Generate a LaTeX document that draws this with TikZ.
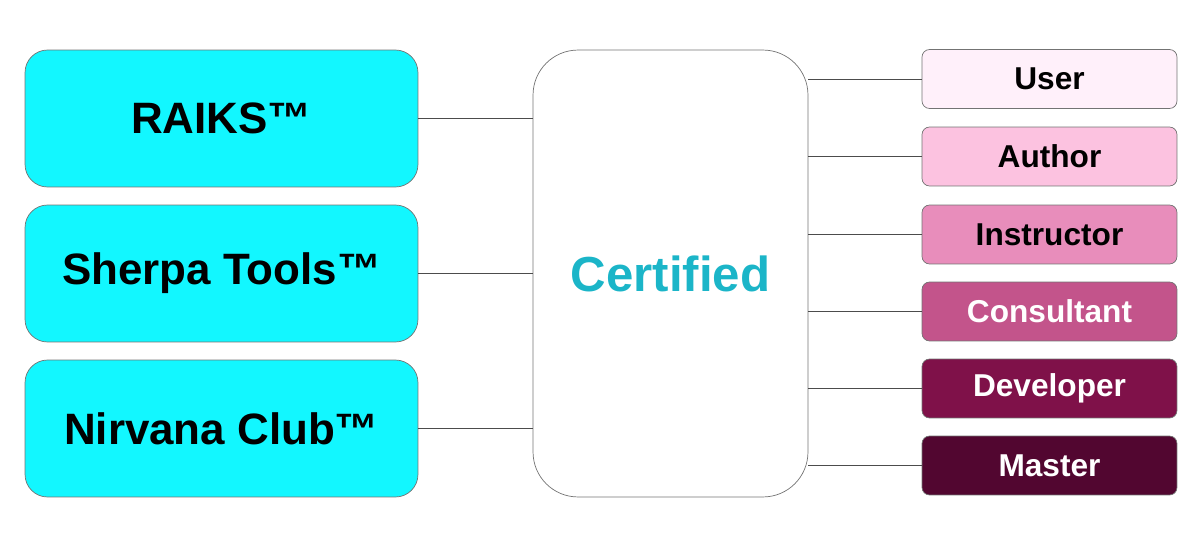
\documentclass[tikz,border=0pt]{standalone}
\usepackage{fontspec}
\setmainfont{Liberation Sans}
\usetikzlibrary{positioning}
\definecolor{cyanbox}{HTML}{12F7FF}
\definecolor{certtext}{HTML}{1BB5C8}
\definecolor{lvlA}{HTML}{FFF0FA}
\definecolor{lvlB}{HTML}{FCC2E0}
\definecolor{lvlC}{HTML}{E88DBB}
\definecolor{lvlD}{HTML}{C3548B}
\definecolor{lvlE}{HTML}{7F1149}
\definecolor{lvlF}{HTML}{520630}
\tikzset{
  prod/.style={draw=black!55, fill=cyanbox, rounded corners=0.45cm, minimum width=7.86cm, minimum height=2.74cm, font=\fontsize{25}{30}\selectfont\bfseries},
  level/.style={draw=black!55, rounded corners=0.15cm, minimum width=5.1cm, minimum height=1.18cm, font=\fontsize{18}{22}\selectfont\bfseries},
  link/.style={black!70, thin}
}
\begin{document}
\begin{tikzpicture}[x=0.02cm,y=-0.02cm]
        \useasboundingbox (0,0) rectangle (1200,554);
        % product boxes
        \node[prod] (raiks) at (221.5,118.5) {RAIKS™};
        \node[prod] (sherpa) at (221.5,273.5) {Sherpa Tools™};
        \node[prod] (nirvana) at (221.5,428.5) {Nirvana Club™};
        % centre
        \node[draw=black!55, rounded corners=0.9cm, minimum width=5.5cm, minimum height=8.94cm, text=certtext, font=\fontsize{28}{32}\selectfont\bfseries] (cert) at (670.5,273.5) {Certified};
        % levels
        \node[level, fill=lvlA] (user) at (1049.5,79) {User};
        \node[level, fill=lvlB] (author) at (1049.5,156.5) {Author};
        \node[level, fill=lvlC] (instr) at (1049.5,234.5) {Instructor};
        \node[level, fill=lvlD, text=white] (cons) at (1049.5,311.5) {Consultant};
        \node[level, fill=lvlE, text=white] (dev) at (1049.5,388.5) {Developer};
        \node[level, fill=lvlF, text=white] (master) at (1049.5,465.5) {Master};
        % connectors
        \foreach \p in {raiks,sherpa,nirvana}
            \draw[link] (\p.east) -- (\p.east -| cert.west);
        \foreach \l in {user,author,instr,cons,dev,master}
            \draw[link] (\l.west -| cert.east) -- (\l.west);
\end{tikzpicture}
\end{document}
